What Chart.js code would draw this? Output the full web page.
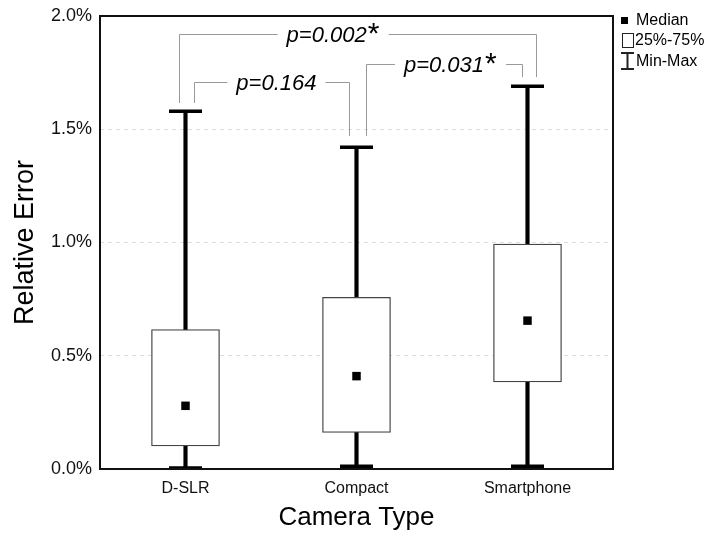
<!DOCTYPE html>
<html>
<head>
<meta charset="utf-8">
<script src="https://cdn.jsdelivr.net/npm/chart.js@4"></script>
<style>
  html, body { margin: 0; padding: 0; background: #fff; }
  #wrap { width: 711px; height: 533px; }
</style>
</head>
<body>
<div id="wrap"><canvas id="c" width="711" height="533"></canvas></div>
<script>
// ---- data (percent) ----
const categories = ['D-SLR', 'Compact', 'Smartphone'];
const minValues    = [0.004, 0.012, 0.012];
const q1Values     = [0.102, 0.161, 0.384];
const medianValues = [0.279, 0.410, 0.655];
const q3Values     = [0.616, 0.758, 0.993];
const maxValues    = [1.580, 1.420, 1.690];
const yTicks = [0, 0.5, 1.0, 1.5, 2.0];

// significance brackets: category indices, top level, end levels, label
const bracketFrom   = [0, 0, 1];
const bracketTo     = [2, 1, 2];
const bracketTop    = [1.92, 1.71, 1.79];
const bracketLeftEnd  = [1.616, 1.616, 1.47];
const bracketRightEnd = [1.73, 1.47, 1.73];
const bracketLabels = ['p=0.002', 'p=0.164', 'p=0.031'];
const bracketStars  = [true, false, true];

// ---- styling (not data) ----
const bracketStyle = [
  { dx1: -7, dx2: 8.5, textStart: 0.30 },
  { dx1: 8.5, dx2: -7.5, textStart: 0.27 },
  { dx1: 9.5, dx2: -6, textStart: 0.24 }
];
const FONT = '"Liberation Sans", Arial, sans-serif';

const bracketPlugin = {
  id: 'brackets',
  afterDatasetsDraw(chart) {
    const { ctx, scales: { x, y }, chartArea } = chart;
    ctx.save();
    // frame
    ctx.strokeStyle = '#111';
    ctx.lineWidth = 2;
    ctx.strokeRect(chartArea.left, chartArea.top, chartArea.right - chartArea.left, chartArea.bottom - chartArea.top);

    ctx.strokeStyle = '#999';
    ctx.lineWidth = 1;
    for (let i = 0; i < bracketLabels.length; i++) {
      const st = bracketStyle[i];
      const x1 = Math.round(x.getPixelForValue(bracketFrom[i]) + st.dx1) + 0.5;
      const x2 = Math.round(x.getPixelForValue(bracketTo[i]) + st.dx2) + 0.5;
      const yt = Math.round(y.getPixelForValue(bracketTop[i])) + 0.5;
      const yl = y.getPixelForValue(bracketLeftEnd[i]);
      const yr = y.getPixelForValue(bracketRightEnd[i]);
      ctx.font = 'italic 22px ' + FONT;
      const tw = ctx.measureText(bracketLabels[i]).width;
      const starW = bracketStars[i] ? 13 : 0;
      const tx = x1 + (x2 - x1) * st.textStart;
      const gap1 = tx - 9;
      const gap2 = tx + tw + starW + 9;
      ctx.beginPath();
      ctx.moveTo(x1, yl); ctx.lineTo(x1, yt); ctx.lineTo(gap1, yt);
      ctx.moveTo(gap2, yt); ctx.lineTo(x2, yt); ctx.lineTo(x2, yr);
      ctx.stroke();
      ctx.fillStyle = '#000';
      ctx.textAlign = 'left';
      ctx.textBaseline = 'alphabetic';
      ctx.fillText(bracketLabels[i], tx, yt + 7.5);
      if (bracketStars[i]) {
        ctx.font = '30px ' + FONT;
        ctx.fillText('*', tx + tw + 1, yt + 8);
      }
    }

    // legend
    ctx.fillStyle = '#000';
    ctx.fillRect(621, 17, 7, 7);
    ctx.font = '16px ' + FONT;
    ctx.textBaseline = 'middle';
    ctx.fillText('Median', 636, 21);
    ctx.strokeStyle = '#222';
    ctx.lineWidth = 1;
    ctx.strokeRect(622.5, 33.5, 11, 14);
    ctx.fillText('25%-75%', 635, 41);
    ctx.lineWidth = 2;
    ctx.beginPath();
    ctx.moveTo(621, 53); ctx.lineTo(634, 53);
    ctx.moveTo(627.5, 53); ctx.lineTo(627.5, 69);
    ctx.moveTo(621, 69); ctx.lineTo(634, 69);
    ctx.stroke();
    ctx.fillText('Min-Max', 636, 62);
    ctx.restore();
  }
};

const ctx = document.getElementById('c').getContext('2d');
new Chart(ctx, {
  type: 'bar',
  data: {
    labels: categories,
    datasets: [
      {
        type: 'line', label: 'Median', data: medianValues, showLine: false,
        pointStyle: 'rect', pointRadius: 6, pointBackgroundColor: '#000',
        pointBorderWidth: 0, order: 0
      },
      {
        type: 'line', label: 'Max', data: maxValues, showLine: false,
        pointStyle: 'line', pointRadius: 16.5, pointBorderColor: '#000',
        pointBorderWidth: 3.5, order: 1
      },
      {
        type: 'line', label: 'Min', data: minValues, showLine: false,
        pointStyle: 'line', pointRadius: 16.5, pointBorderColor: '#000',
        pointBorderWidth: 3.5, order: 1
      },
      {
        label: 'Box', data: categories.map((c, i) => [q1Values[i], q3Values[i]]),
        backgroundColor: '#fff', borderColor: '#444', borderWidth: 1.3,
        borderSkipped: false, barThickness: 68, grouped: false, order: 2
      },
      {
        label: 'Whisker', data: categories.map((c, i) => [minValues[i], maxValues[i]]),
        backgroundColor: '#000', borderWidth: 0,
        barThickness: 3.5, grouped: false, order: 3
      }
    ]
  },
  options: {
    responsive: false,
    animation: false,
    devicePixelRatio: 1,
    layout: { autoPadding: false, padding: { left: 9, right: 98, top: 16, bottom: 0 } },
    plugins: { legend: { display: false }, tooltip: { enabled: false } },
    scales: {
      x: {
        afterFit(scale) { scale.height = 64; },
        grid: { display: false, drawTicks: false },
        border: { display: false },
        ticks: { color: '#111', font: { family: FONT, size: 16 }, padding: 10 },
        title: { display: true, text: 'Camera Type', color: '#000',
                 font: { family: FONT, size: 26 }, padding: { top: 0, bottom: 0 } }
      },
      y: {
        min: 0, max: 2,
        afterFit(scale) { scale.width = 91; scale.paddingTop = 0; scale.paddingBottom = 0; },
        afterBuildTicks(scale) { scale.ticks = yTicks.map(v => ({ value: v })); },
        grid: {
          drawTicks: false,
          color: (c) => (c.tick && (c.tick.value === 0 || c.tick.value === 2)) ? 'rgba(0,0,0,0)' : '#ddd',
          lineWidth: 1
        },
        border: { display: false, dash: [4, 4] },
        ticks: { color: '#111', font: { family: FONT, size: 18 }, padding: 8,
                 callback: (v) => Number(v).toFixed(1) + '%' },
        title: { display: true, text: 'Relative Error', color: '#000',
                 font: { family: FONT, size: 27 }, padding: { top: 0, bottom: 0 } }
      }
    }
  },
  plugins: [bracketPlugin]
});
</script>
</body>
</html>
